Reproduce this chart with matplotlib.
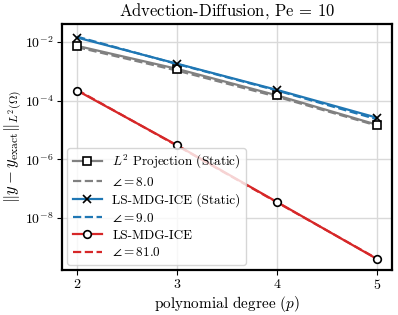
import matplotlib
matplotlib.use('Agg')
import matplotlib.pyplot as plt
import numpy as np

plt.rcParams['font.family'] = 'serif'
plt.rcParams['font.serif'] = ['cmr10', 'DejaVu Serif']
plt.rcParams['mathtext.fontset'] = 'cm'
plt.rcParams['axes.formatter.use_mathtext'] = True

# data
p = [2, 3, 4, 5]
err_l2 = [7.3e-3, 1.2e-3, 1.5e-4, 1.5e-5]
fit_l2 = [6.6e-3, 1.05e-3, 1.35e-4, 1.4e-5]
err_static = [1.4e-2, 1.8e-3, 2.3e-4, 2.6e-5]
fit_static = [1.5e-2, 1.75e-3, 2.2e-4, 2.3e-5]
err_ice = [2.2e-4, 3.0e-6, 3.5e-8, 4.0e-10]
fit_ice = [2.3e-4, 2.9e-6, 3.4e-8, 4.1e-10]
rates = ['8.0', '9.0', '81.0']
labels = [r'$L^2$ Projection (Static)', 'LS-MDG-ICE (Static)', 'LS-MDG-ICE']
colors = ['gray', '#1f77b4', '#d62728']
mk = ['s', 'x', 'o']

fig = plt.figure(figsize=(3.98, 3.15), dpi=100)
ax = fig.add_axes([0.156, 0.143, 0.829, 0.781])

errs = [err_l2, err_static, err_ice]
fits = [fit_l2, fit_static, fit_ice]
for i in range(3):
    ax.semilogy(p, errs[i], '-', color=colors[i], lw=1.6, marker=mk[i],
                mfc='white', mec='k', mew=1.2, ms=5.5, label=labels[i], zorder=3)
    ax.semilogy(p, fits[i], '--', color=colors[i], lw=1.6,
                label=r'$\angle = %s$' % rates[i], zorder=2)

ax.set_xlim(1.85, 5.15)
ax.set_ylim(10**-9.77, 10**-1.39)
ax.set_xticks(p)
ax.set_yticks([1e-8, 1e-6, 1e-4, 1e-2])
ax.yaxis.set_minor_locator(matplotlib.ticker.NullLocator())
ax.grid(True, color='#d9d9d9', lw=1.0)
ax.set_axisbelow(True)
for s in ax.spines.values():
    s.set_linewidth(1.6)
ax.tick_params(labelsize=10, length=3.5, pad=2.5)

ax.set_title(r'Advection-Diffusion, $\mathrm{Pe}$ = 10', fontsize=12)
ax.set_xlabel(r'polynomial degree ($p$)', fontsize=11, labelpad=1)
ax.set_ylabel(r'$\Vert y - y_{\mathrm{exact}}\Vert_{L^2(\Omega)}$', fontsize=12, labelpad=1)

ax.legend(loc='lower left', fontsize=9.5, handlelength=2.2, labelspacing=0.35,
          borderaxespad=0.4)

fig.savefig('out.png', dpi=100)
